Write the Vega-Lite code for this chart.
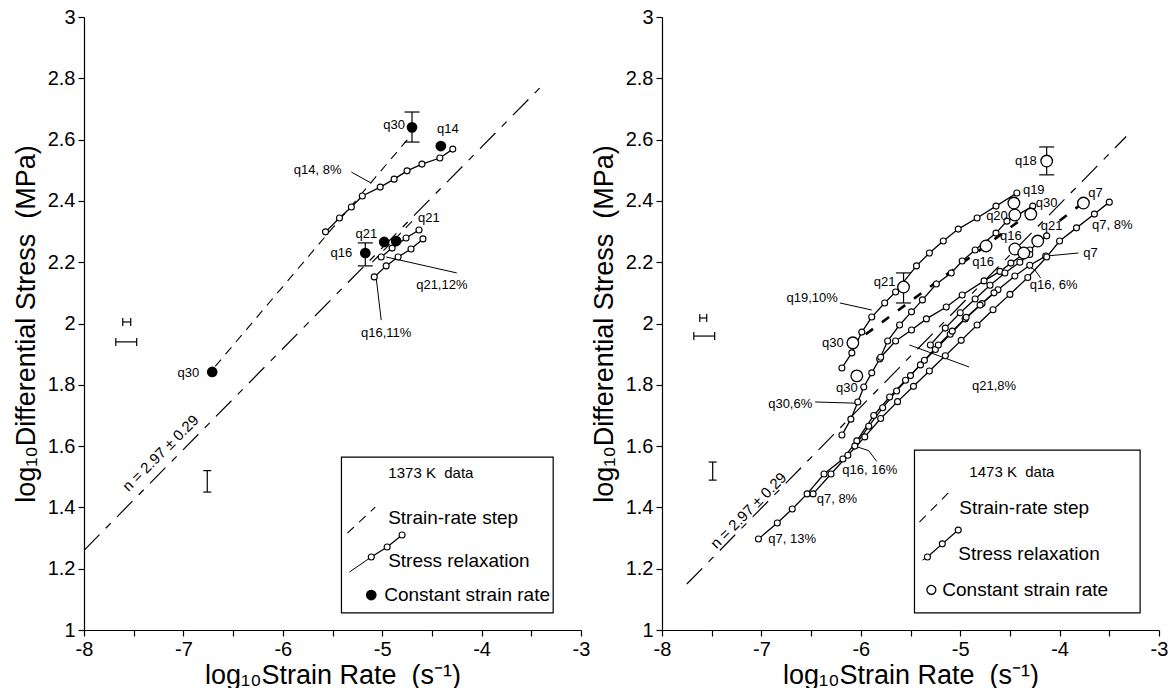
{
"$schema": "https://vega.github.io/schema/vega-lite/v6.json",
"padding": {"left": 12, "top": 7, "right": 0, "bottom": 0},
"autosize": {"type": "pad"},
"spacing": 81,
"bounds": "flush",
"datasets": {
"L": [
{"k":"box","x":-5.41,"x2":-3.28,"y":1.056,"y2":1.564},
{"k":"n","s":"a","x":-8,"y":1.26},{"k":"n","s":"a","x":-3.41,"y":2.77},
{"k":"step","s":"q30","x":-6.68,"y":1.86},{"k":"step","s":"q30","x":-4.72,"y":2.61},
{"k":"step","s":"q21","x":-5.1,"y":2.2},{"k":"step","s":"q21","x":-4.68,"y":2.34},
{"k":"step","s":"leg","x":-5.35,"y":1.316},{"k":"step","s":"leg","x":-5.07,"y":1.401},
{"k":"relax","s":"q14","x":-5.57,"y":2.299},{"k":"relax","s":"q14","x":-5.43,"y":2.344},{"k":"relax","s":"q14","x":-5.31,"y":2.38},{"k":"relax","s":"q14","x":-5.2,"y":2.416},{"k":"relax","s":"q14","x":-5.02,"y":2.445},{"k":"relax","s":"q14","x":-4.88,"y":2.471},{"k":"relax","s":"q14","x":-4.75,"y":2.498},{"k":"relax","s":"q14","x":-4.6,"y":2.52},{"k":"relax","s":"q14","x":-4.42,"y":2.54},{"k":"relax","s":"q14","x":-4.29,"y":2.569},
{"k":"relax","s":"q21","x":-5.01,"y":2.217},{"k":"relax","s":"q21","x":-4.9,"y":2.246},{"k":"relax","s":"q21","x":-4.76,"y":2.279},{"k":"relax","s":"q21","x":-4.63,"y":2.305},
{"k":"relax","s":"q16","x":-5.08,"y":2.152},{"k":"relax","s":"q16","x":-4.96,"y":2.188},{"k":"relax","s":"q16","x":-4.84,"y":2.217},{"k":"relax","s":"q16","x":-4.71,"y":2.243},{"k":"relax","s":"q16","x":-4.59,"y":2.276},
{"k":"relax","s":"leg","x":-5.11,"y":1.238},{"k":"relax","s":"leg","x":-4.95,"y":1.271},{"k":"relax","s":"leg","x":-4.8,"y":1.31},
{"k":"lead","s":"q14","x":-5.31,"y":2.494},{"k":"lead","s":"q14","x":-5.11,"y":2.458},
{"k":"lead","s":"q21","x":-4.96,"y":2.217},{"k":"lead","s":"q21","x":-4.25,"y":2.165},
{"k":"lead","s":"q16","x":-5.06,"y":2.148},{"k":"lead","s":"q16","x":-5.01,"y":2.011},
{"k":"lead","s":"leg","x":-5.33,"y":1.189},{"k":"lead","s":"leg","x":-5.11,"y":1.238},
{"k":"const","x":-4.7,"y":2.64},{"k":"const","x":-4.41,"y":2.579},{"k":"const","x":-4.98,"y":2.266},{"k":"const","x":-4.86,"y":2.269},{"k":"const","x":-5.17,"y":2.23},{"k":"const","x":-6.71,"y":1.842},{"k":"const","x":-5.11,"y":1.114},
{"k":"vbar","x":-4.7,"y":2.592,"y2":2.69},{"k":"vbar","x":-5.17,"y":2.188,"y2":2.263},{"k":"vbar","x":-6.76,"y":1.45,"y2":1.52},
{"k":"capB","x":-4.7,"y":2.592},{"k":"capB","x":-4.7,"y":2.69},{"k":"capB","x":-5.17,"y":2.188},{"k":"capB","x":-5.17,"y":2.263},
{"k":"capS","x":-6.76,"y":1.45},{"k":"capS","x":-6.76,"y":1.52},
{"k":"hbar","x":-7.61,"x2":-7.53,"y":2.005},{"k":"hbar","x":-7.68,"x2":-7.47,"y":1.94},
{"k":"capV","x":-7.61,"y":2.005},{"k":"capV","x":-7.53,"y":2.005},{"k":"capV","x":-7.68,"y":1.94},{"k":"capV","x":-7.47,"y":1.94},
{"k":"lab","t":"q30","x":-4.88,"y":2.648},
{"k":"lab","t":"q14","x":-4.34,"y":2.635},
{"k":"lab","t":"q14, 8%","x":-5.65,"y":2.5},
{"k":"lab","t":"q21","x":-4.53,"y":2.344},
{"k":"lab","t":"q21","x":-5.16,"y":2.292},
{"k":"lab","t":"q16","x":-5.41,"y":2.23},
{"k":"lab","t":"q21,12%","x":-4.4,"y":2.126},
{"k":"lab","t":"q16,11%","x":-4.96,"y":1.97},
{"k":"lab","t":"q30","x":-6.95,"y":1.838},
{"k":"legh","t":"1373 K\u00a0 data","x":-4.51,"y":1.512},
{"k":"legt","t":"Strain-rate step","x":-4.94,"y":1.365},
{"k":"legt","t":"Stress relaxation","x":-4.94,"y":1.225},
{"k":"legt","t":"Constant strain rate","x":-4.98,"y":1.114},
{"k":"nlab","t":"n = 2.97 ± 0.29","x":-7.23,"y":1.577}
],
"R": [
{"k":"box","x":-5.46,"x2":-3.19,"y":1.056,"y2":1.587},
{"k":"n","s":"a","x":-7.75,"y":1.15},{"k":"n","s":"a","x":-3.33,"y":2.61},
{"k":"bstep","s":"a","x":-5.95,"y":1.965},{"k":"bstep","s":"a","x":-4.3,"y":2.36},
{"k":"bstep","s":"b","x":-4.0,"y":2.335},{"k":"bstep","s":"b","x":-3.78,"y":2.39},
{"k":"step","s":"leg","x":-5.41,"y":1.352},{"k":"step","s":"leg","x":-5.09,"y":1.457},
{"k":"relax","s":"q19","x":-6.19,"y":1.855},{"k":"relax","s":"q19","x":-6.09,"y":1.904},{"k":"relax","s":"q19","x":-5.99,"y":1.972},{"k":"relax","s":"q19","x":-5.89,"y":2.021},{"k":"relax","s":"q19","x":-5.76,"y":2.067},{"k":"relax","s":"q19","x":-5.65,"y":2.103},{"k":"relax","s":"q19","x":-5.44,"y":2.188},{"k":"relax","s":"q19","x":-5.31,"y":2.23},{"k":"relax","s":"q19","x":-5.17,"y":2.269},{"k":"relax","s":"q19","x":-5.02,"y":2.308},{"k":"relax","s":"q19","x":-4.83,"y":2.344},{"k":"relax","s":"q19","x":-4.64,"y":2.383},{"k":"relax","s":"q19","x":-4.43,"y":2.426},
{"k":"relax","s":"q30","x":-6.19,"y":1.636},{"k":"relax","s":"q30","x":-6.1,"y":1.688},{"k":"relax","s":"q30","x":-6.03,"y":1.744},{"k":"relax","s":"q30","x":-5.97,"y":1.793},{"k":"relax","s":"q30","x":-5.89,"y":1.839},{"k":"relax","s":"q30","x":-5.81,"y":1.884},{"k":"relax","s":"q30","x":-5.73,"y":1.943},{"k":"relax","s":"q30","x":-5.61,"y":1.995},{"k":"relax","s":"q30","x":-5.49,"y":2.038},{"k":"relax","s":"q30","x":-5.38,"y":2.077},{"k":"relax","s":"q30","x":-5.24,"y":2.129},{"k":"relax","s":"q30","x":-5.09,"y":2.165},{"k":"relax","s":"q30","x":-4.98,"y":2.204},{"k":"relax","s":"q30","x":-4.85,"y":2.24},{"k":"relax","s":"q30","x":-4.64,"y":2.295},{"k":"relax","s":"q30","x":-4.53,"y":2.334},{"k":"relax","s":"q30","x":-4.27,"y":2.383},
{"k":"relax","s":"q21","x":-5.8,"y":1.89},{"k":"relax","s":"q21","x":-5.65,"y":1.943},{"k":"relax","s":"q21","x":-5.49,"y":1.979},{"k":"relax","s":"q21","x":-5.34,"y":2.015},{"k":"relax","s":"q21","x":-5.14,"y":2.054},{"k":"relax","s":"q21","x":-4.98,"y":2.093},{"k":"relax","s":"q21","x":-4.76,"y":2.139},{"k":"relax","s":"q21","x":-4.6,"y":2.17},{"k":"relax","s":"q21","x":-4.49,"y":2.197},{"k":"relax","s":"q21","x":-4.3,"y":2.24},{"k":"relax","s":"q21","x":-4.13,"y":2.286},
{"k":"relax","s":"q7a","x":-7.03,"y":1.297},{"k":"relax","s":"q7a","x":-6.84,"y":1.349},{"k":"relax","s":"q7a","x":-6.69,"y":1.395},{"k":"relax","s":"q7a","x":-6.54,"y":1.444},{"k":"relax","s":"q7a","x":-6.37,"y":1.509},{"k":"relax","s":"q7a","x":-6.18,"y":1.558},{"k":"relax","s":"q7a","x":-6.04,"y":1.617},{"k":"relax","s":"q7a","x":-5.87,"y":1.7},{"k":"relax","s":"q7a","x":-5.71,"y":1.76},{"k":"relax","s":"q7a","x":-5.55,"y":1.815},{"k":"relax","s":"q7a","x":-5.4,"y":1.865},{"k":"relax","s":"q7a","x":-5.25,"y":1.915},{"k":"relax","s":"q7a","x":-5.1,"y":1.965},{"k":"relax","s":"q7a","x":-4.95,"y":2.015},{"k":"relax","s":"q7a","x":-4.78,"y":2.065},{"k":"relax","s":"q7a","x":-4.62,"y":2.11},{"k":"relax","s":"q7a","x":-4.45,"y":2.155},{"k":"relax","s":"q7a","x":-4.3,"y":2.19},{"k":"relax","s":"q7a","x":-4.14,"y":2.22},
{"k":"relax","s":"q7b","x":-6.48,"y":1.444},{"k":"relax","s":"q7b","x":-6.3,"y":1.509},{"k":"relax","s":"q7b","x":-6.13,"y":1.57},{"k":"relax","s":"q7b","x":-5.96,"y":1.63},{"k":"relax","s":"q7b","x":-5.8,"y":1.69},{"k":"relax","s":"q7b","x":-5.63,"y":1.745},{"k":"relax","s":"q7b","x":-5.47,"y":1.795},{"k":"relax","s":"q7b","x":-5.31,"y":1.845},{"k":"relax","s":"q7b","x":-5.15,"y":1.895},{"k":"relax","s":"q7b","x":-4.99,"y":1.945},{"k":"relax","s":"q7b","x":-4.83,"y":1.995},{"k":"relax","s":"q7b","x":-4.67,"y":2.045},{"k":"relax","s":"q7b","x":-4.5,"y":2.095},{"k":"relax","s":"q7b","x":-4.32,"y":2.15},{"k":"relax","s":"q7b","x":-4.13,"y":2.217},{"k":"relax","s":"q7b","x":-4.0,"y":2.269},{"k":"relax","s":"q7b","x":-3.83,"y":2.312},{"k":"relax","s":"q7b","x":-3.65,"y":2.357},{"k":"relax","s":"q7b","x":-3.5,"y":2.396},
{"k":"relax","s":"q16a","x":-6.06,"y":1.6},{"k":"relax","s":"q16a","x":-5.92,"y":1.665},{"k":"relax","s":"q16a","x":-5.78,"y":1.725},{"k":"relax","s":"q16a","x":-5.64,"y":1.78},{"k":"relax","s":"q16a","x":-5.5,"y":1.83},{"k":"relax","s":"q16a","x":-5.36,"y":1.88},{"k":"relax","s":"q16a","x":-5.22,"y":1.93},{"k":"relax","s":"q16a","x":-5.08,"y":1.975},{"k":"relax","s":"q16a","x":-4.94,"y":2.02},{"k":"relax","s":"q16a","x":-4.8,"y":2.06},{"k":"relax","s":"q16a","x":-4.66,"y":2.1},
{"k":"relax","s":"q16b","x":-5.3,"y":1.93},{"k":"relax","s":"q16b","x":-5.15,"y":1.985},{"k":"relax","s":"q16b","x":-5.0,"y":2.035},{"k":"relax","s":"q16b","x":-4.85,"y":2.08},{"k":"relax","s":"q16b","x":-4.7,"y":2.125},{"k":"relax","s":"q16b","x":-4.55,"y":2.165},{"k":"relax","s":"q16b","x":-4.4,"y":2.2},{"k":"relax","s":"q16b","x":-4.3,"y":2.225},
{"k":"relax","s":"leg","x":-5.33,"y":1.238},{"k":"relax","s":"leg","x":-5.18,"y":1.281},{"k":"relax","s":"leg","x":-5.02,"y":1.326},
{"k":"lead","s":"q19","x":-6.21,"y":2.067},{"k":"lead","s":"q19","x":-5.89,"y":2.044},
{"k":"lead","s":"q30","x":-6.46,"y":1.744},{"k":"lead","s":"q30","x":-6.04,"y":1.74},
{"k":"lead","s":"q16a","x":-6.06,"y":1.6},{"k":"lead","s":"q16a","x":-5.92,"y":1.585},{"k":"lead","s":"q16a","x":-5.84,"y":1.55},
{"k":"lead","s":"q7","x":-4.14,"y":2.22},{"k":"lead","s":"q7","x":-3.81,"y":2.23},
{"k":"lead","s":"q16b","x":-4.33,"y":2.19},{"k":"lead","s":"q16b","x":-4.25,"y":2.175},{"k":"lead","s":"q16b","x":-4.19,"y":2.148},
{"k":"lead","s":"q21","x":-5.51,"y":1.93},{"k":"lead","s":"q21","x":-4.91,"y":1.858},
{"k":"lead","s":"leg","x":-5.38,"y":1.228},{"k":"lead","s":"leg","x":-5.33,"y":1.238},
{"k":"const","x":-4.13,"y":2.53},{"k":"const","x":-4.46,"y":2.393},{"k":"const","x":-4.45,"y":2.354},{"k":"const","x":-4.29,"y":2.357},{"k":"const","x":-4.22,"y":2.269},{"k":"const","x":-4.74,"y":2.253},{"k":"const","x":-4.45,"y":2.243},{"k":"const","x":-4.36,"y":2.23},{"k":"const","x":-3.76,"y":2.393},{"k":"const","x":-5.57,"y":2.119},{"k":"const","x":-6.08,"y":1.937},{"k":"const","x":-6.04,"y":1.829},
{"k":"legc","x":-5.29,"y":1.131},
{"k":"vbar","x":-4.13,"y":2.485,"y2":2.576},{"k":"vbar","x":-5.57,"y":2.067,"y2":2.165},{"k":"vbar","x":-7.49,"y":1.489,"y2":1.548},
{"k":"capB","x":-4.13,"y":2.485},{"k":"capB","x":-4.13,"y":2.576},{"k":"capB","x":-5.57,"y":2.067},{"k":"capB","x":-5.57,"y":2.165},
{"k":"capS","x":-7.49,"y":1.489},{"k":"capS","x":-7.49,"y":1.548},
{"k":"hbar","x":-7.62,"x2":-7.55,"y":2.018},{"k":"hbar","x":-7.68,"x2":-7.47,"y":1.959},
{"k":"capV","x":-7.62,"y":2.018},{"k":"capV","x":-7.55,"y":2.018},{"k":"capV","x":-7.68,"y":1.959},{"k":"capV","x":-7.47,"y":1.959},
{"k":"lab","t":"q18","x":-4.34,"y":2.53},
{"k":"lab","t":"q19","x":-4.26,"y":2.436},
{"k":"lab","t":"q30","x":-4.13,"y":2.393},
{"k":"lab","t":"q20","x":-4.63,"y":2.35},
{"k":"lab","t":"q21","x":-4.08,"y":2.318},
{"k":"lab","t":"q16","x":-4.49,"y":2.285},
{"k":"lab","t":"q16","x":-4.77,"y":2.2},
{"k":"lab","t":"q7","x":-3.64,"y":2.426},
{"k":"lab","t":"q7, 8%","x":-3.47,"y":2.32},
{"k":"lab","t":"q7","x":-3.69,"y":2.23},
{"k":"lab","t":"q16, 6%","x":-4.06,"y":2.126},
{"k":"lab","t":"q21","x":-5.76,"y":2.135},
{"k":"lab","t":"q19,10%","x":-6.49,"y":2.083},
{"k":"lab","t":"q30","x":-6.28,"y":1.936},
{"k":"lab","t":"q21,8%","x":-4.66,"y":1.796},
{"k":"lab","t":"q30","x":-6.14,"y":1.79},
{"k":"lab","t":"q30,6%","x":-6.71,"y":1.737},
{"k":"lab","t":"q16, 16%","x":-5.91,"y":1.522},
{"k":"lab","t":"q7, 8%","x":-6.24,"y":1.427},
{"k":"lab","t":"q7, 13%","x":-6.69,"y":1.297},
{"k":"legh","t":"1473 K\u00a0 data","x":-4.48,"y":1.516},
{"k":"legt","t":"Strain-rate step","x":-5.01,"y":1.398},
{"k":"legt","t":"Stress relaxation","x":-5.02,"y":1.248},
{"k":"legt","t":"Constant strain rate","x":-5.18,"y":1.131},
{"k":"nlab","t":"n = 2.97 ± 0.29","x":-7.13,"y":1.39}
]
},
"hconcat": [
{
"width": 497, "height": 613,
"data": {"name": "L"},
"encoding": {
"x": {"field": "x", "type": "quantitative", "scale": {"domain": [-8, -3], "nice": false, "zero": false}, "axis": {"title": "log₁₀Strain Rate \u00a0(s⁻¹)", "values": [-8,-7.5,-7,-6.5,-6,-5.5,-5,-4.5,-4,-3.5,-3], "labelExpr": "datum.value % 1 === 0 ? '' + datum.value : ''", "labelFlush": false, "labelOverlap": false, "titlePadding": 3}},
"y": {"field": "y", "type": "quantitative", "scale": {"domain": [1, 3], "nice": false, "zero": false}, "axis": {"title": "log₁₀Differential Stress \u00a0(MPa)", "values": [1,1.2,1.4,1.6,1.8,2,2.2,2.4,2.6,2.8,3], "labelExpr": "'' + datum.value", "labelFlush": false, "labelOverlap": false, "titlePadding": 7}}
},
"layer": [
{"transform": [{"filter": "datum.k == 'box'"}], "mark": {"type": "rect", "fill": "white", "stroke": "black", "strokeWidth": 1.2}, "encoding": {"x2": {"field": "x2"}, "y2": {"field": "y2"}}},
{"transform": [{"filter": "datum.k == 'n'"}], "mark": {"type": "line", "color": "black", "strokeWidth": 1.2, "strokeDash": [22, 9, 7, 9]}, "encoding": {"detail": {"field": "s"}}},
{"transform": [{"filter": "datum.k == 'step'"}], "mark": {"type": "line", "color": "black", "strokeWidth": 1.1, "strokeDash": [9, 7]}, "encoding": {"detail": {"field": "s"}}},
{"transform": [{"filter": "datum.k == 'lead'"}], "mark": {"type": "line", "color": "black", "strokeWidth": 1}, "encoding": {"detail": {"field": "s"}}},
{"transform": [{"filter": "datum.k == 'relax'"}], "mark": {"type": "line", "color": "black", "strokeWidth": 1.3}, "encoding": {"detail": {"field": "s"}}},
{"transform": [{"filter": "datum.k == 'relax'"}], "mark": {"type": "point", "shape": "circle", "filled": true, "fill": "white", "stroke": "black", "strokeWidth": 1.1, "size": 36, "opacity": 1}},
{"transform": [{"filter": "datum.k == 'vbar'"}], "mark": {"type": "rule", "color": "black", "strokeWidth": 1.2}, "encoding": {"y2": {"field": "y2"}}},
{"transform": [{"filter": "datum.k == 'hbar'"}], "mark": {"type": "rule", "color": "black", "strokeWidth": 1.2}, "encoding": {"x2": {"field": "x2"}}},
{"transform": [{"filter": "datum.k == 'capB'"}], "mark": {"type": "tick", "orient": "horizontal", "size": 15, "thickness": 1.2, "color": "black", "opacity": 1}},
{"transform": [{"filter": "datum.k == 'capS'"}], "mark": {"type": "tick", "orient": "horizontal", "size": 8, "thickness": 1.2, "color": "black", "opacity": 1}},
{"transform": [{"filter": "datum.k == 'capV'"}], "mark": {"type": "tick", "orient": "vertical", "size": 8, "thickness": 1.2, "color": "black", "opacity": 1}},
{"transform": [{"filter": "datum.k == 'const'"}], "mark": {"type": "point", "shape": "circle", "filled": true, "color": "black", "size": 115, "opacity": 1}},
{"transform": [{"filter": "datum.k == 'lab'"}], "mark": {"type": "text", "fontSize": 13, "align": "center", "baseline": "middle", "color": "black"}, "encoding": {"text": {"field": "t"}}},
{"transform": [{"filter": "datum.k == 'legt'"}], "mark": {"type": "text", "fontSize": 19, "align": "left", "baseline": "middle", "color": "black"}, "encoding": {"text": {"field": "t"}}},
{"transform": [{"filter": "datum.k == 'legh'"}], "mark": {"type": "text", "fontSize": 15, "align": "center", "baseline": "middle", "color": "black"}, "encoding": {"text": {"field": "t"}}},
{"transform": [{"filter": "datum.k == 'nlab'"}], "mark": {"type": "text", "fontSize": 15, "align": "center", "baseline": "middle", "angle": -45, "color": "black"}, "encoding": {"text": {"field": "t"}}}
]
},
{
"width": 497, "height": 613,
"data": {"name": "R"},
"encoding": {
"x": {"field": "x", "type": "quantitative", "scale": {"domain": [-8, -3], "nice": false, "zero": false}, "axis": {"title": "log₁₀Strain Rate \u00a0(s⁻¹)", "values": [-8,-7.5,-7,-6.5,-6,-5.5,-5,-4.5,-4,-3.5,-3], "labelExpr": "datum.value % 1 === 0 ? '' + datum.value : ''", "labelFlush": false, "labelOverlap": false, "titlePadding": 3}},
"y": {"field": "y", "type": "quantitative", "scale": {"domain": [1, 3], "nice": false, "zero": false}, "axis": {"title": "log₁₀Differential Stress \u00a0(MPa)", "values": [1,1.2,1.4,1.6,1.8,2,2.2,2.4,2.6,2.8,3], "labelExpr": "'' + datum.value", "labelFlush": false, "labelOverlap": false, "titlePadding": 7}}
},
"layer": [
{"transform": [{"filter": "datum.k == 'box'"}], "mark": {"type": "rect", "fill": "white", "stroke": "black", "strokeWidth": 1.2}, "encoding": {"x2": {"field": "x2"}, "y2": {"field": "y2"}}},
{"transform": [{"filter": "datum.k == 'n'"}], "mark": {"type": "line", "color": "black", "strokeWidth": 1.2, "strokeDash": [22, 9, 7, 9]}, "encoding": {"detail": {"field": "s"}}},
{"transform": [{"filter": "datum.k == 'step'"}], "mark": {"type": "line", "color": "black", "strokeWidth": 1.1, "strokeDash": [9, 7]}, "encoding": {"detail": {"field": "s"}}},
{"transform": [{"filter": "datum.k == 'bstep'"}], "mark": {"type": "line", "color": "black", "strokeWidth": 2.6, "strokeDash": [9, 11]}, "encoding": {"detail": {"field": "s"}}},
{"transform": [{"filter": "datum.k == 'lead'"}], "mark": {"type": "line", "color": "black", "strokeWidth": 1}, "encoding": {"detail": {"field": "s"}}},
{"transform": [{"filter": "datum.k == 'relax'"}], "mark": {"type": "line", "color": "black", "strokeWidth": 1.3}, "encoding": {"detail": {"field": "s"}}},
{"transform": [{"filter": "datum.k == 'relax'"}], "mark": {"type": "point", "shape": "circle", "filled": true, "fill": "white", "stroke": "black", "strokeWidth": 1.1, "size": 36, "opacity": 1}},
{"transform": [{"filter": "datum.k == 'vbar'"}], "mark": {"type": "rule", "color": "black", "strokeWidth": 1.2}, "encoding": {"y2": {"field": "y2"}}},
{"transform": [{"filter": "datum.k == 'hbar'"}], "mark": {"type": "rule", "color": "black", "strokeWidth": 1.2}, "encoding": {"x2": {"field": "x2"}}},
{"transform": [{"filter": "datum.k == 'capB'"}], "mark": {"type": "tick", "orient": "horizontal", "size": 15, "thickness": 1.2, "color": "black", "opacity": 1}},
{"transform": [{"filter": "datum.k == 'capS'"}], "mark": {"type": "tick", "orient": "horizontal", "size": 8, "thickness": 1.2, "color": "black", "opacity": 1}},
{"transform": [{"filter": "datum.k == 'capV'"}], "mark": {"type": "tick", "orient": "vertical", "size": 8, "thickness": 1.2, "color": "black", "opacity": 1}},
{"transform": [{"filter": "datum.k == 'const'"}], "mark": {"type": "point", "shape": "circle", "filled": true, "fill": "white", "stroke": "black", "strokeWidth": 1.3, "size": 135, "opacity": 1}},
{"transform": [{"filter": "datum.k == 'legc'"}], "mark": {"type": "point", "shape": "circle", "filled": true, "fill": "white", "stroke": "black", "strokeWidth": 1.3, "size": 80, "opacity": 1}},
{"transform": [{"filter": "datum.k == 'lab'"}], "mark": {"type": "text", "fontSize": 13, "align": "center", "baseline": "middle", "color": "black"}, "encoding": {"text": {"field": "t"}}},
{"transform": [{"filter": "datum.k == 'legt'"}], "mark": {"type": "text", "fontSize": 19, "align": "left", "baseline": "middle", "color": "black"}, "encoding": {"text": {"field": "t"}}},
{"transform": [{"filter": "datum.k == 'legh'"}], "mark": {"type": "text", "fontSize": 15, "align": "center", "baseline": "middle", "color": "black"}, "encoding": {"text": {"field": "t"}}},
{"transform": [{"filter": "datum.k == 'nlab'"}], "mark": {"type": "text", "fontSize": 15, "align": "center", "baseline": "middle", "angle": -45, "color": "black"}, "encoding": {"text": {"field": "t"}}}
]
}
],
"config": {
"view": {"stroke": null},
"font": "Liberation Sans",
"axis": {"grid": false, "domainColor": "black", "tickColor": "black", "labelColor": "black", "titleColor": "black", "labelFont": "Liberation Sans", "titleFont": "Liberation Sans", "labelFontSize": 20, "titleFontSize": 27, "titleFontWeight": "normal", "tickSize": 6, "domainWidth": 1.2, "tickWidth": 1.2, "labelPadding": 3},
"text": {"font": "Liberation Sans"}
}
}
